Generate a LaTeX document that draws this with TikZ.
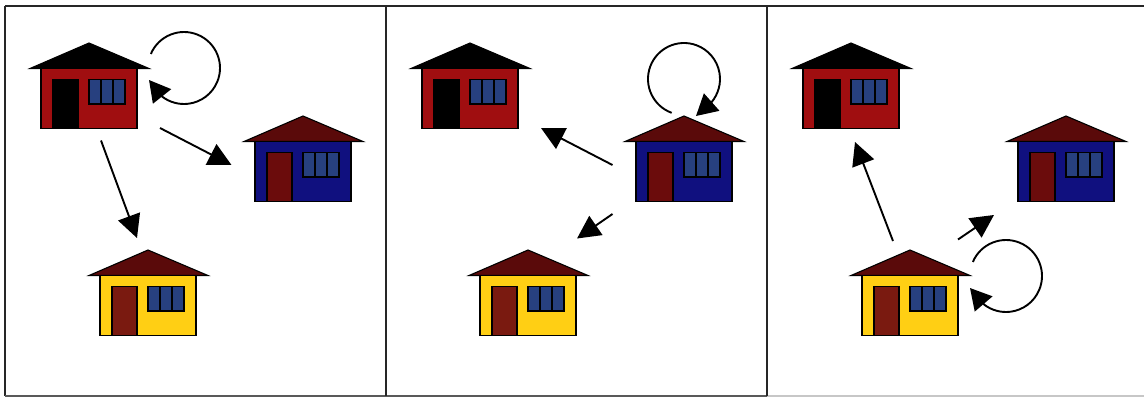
\documentclass[tikz,border=0pt]{standalone}
\usetikzlibrary{arrows.meta}
\definecolor{wallred}{HTML}{A00E10}
\definecolor{wallblue}{HTML}{10107F}
\definecolor{wallyellow}{HTML}{FFCF14}
\definecolor{roofdark}{HTML}{5A0A0A}
\definecolor{glass}{HTML}{27407F}
\definecolor{doordark}{HTML}{7A1A10}
\definecolor{doormaroon}{HTML}{6B0C0C}
\tikzset{
  x=1pt,y=-1pt,
  frameline/.style={line width=1.6pt,draw=black!85},
  outline/.style={line width=1.5pt,draw=black},
  link/.style={line width=1.9pt,draw=black,-{Triangle[length=23pt,width=23pt]}},
  loopa/.style={line width=1.9pt,draw=black,-{Triangle[length=21pt,width=23pt]}},
  pics/house/.style n args={3}{code={
    \filldraw[line width=1.1pt,draw=black,fill=#3] (-59,25.5) -- (0,0) -- (60,25.5) -- cycle;
    \filldraw[outline,fill=#1] (-48,25.5) rectangle (48,85.5);
    \filldraw[outline,fill=#2] (-36,36.5) rectangle (-11,85.5);
    \filldraw[outline,fill=glass] (0,36.5) rectangle (36,61);
    \draw[outline] (12,36.5) -- (12,61) (24,36.5) -- (24,61);
  }}
}
\begin{document}
\begin{tikzpicture}
\useasboundingbox (0,0) rectangle (1144,397);
\fill[white] (0,0) rectangle (1144,397);
% frame
\coordinate (tl) at (5,6);
\coordinate (tr) at (1144,6);
\coordinate (bl) at (5,396);
\coordinate (bm) at (767,396);
\coordinate (br) at (1144,396);
\draw[frameline] (tl) -- (tr) (tl) -- (bl);
\draw[frameline,draw=black!65] (bl) -- (bm);
\draw[frameline,draw=black!22] (bm) -- (br);
\draw[frameline] (386,6) -- (386,396) (767,6) -- (767,396);
% houses
\pic (ra) at (89,43) {house={wallred}{black}{black}};
\pic (ba) at (303,116) {house={wallblue}{doormaroon}{roofdark}};
\pic (ya) at (148,250) {house={wallyellow}{doordark}{roofdark}};
\pic (rb) at (470,43) {house={wallred}{black}{black}};
\pic (bb) at (684,116) {house={wallblue}{doormaroon}{roofdark}};
\pic (yb) at (528,250) {house={wallyellow}{doordark}{roofdark}};
\pic (rc) at (851,43) {house={wallred}{black}{black}};
\pic (bc) at (1066,116) {house={wallblue}{doormaroon}{roofdark}};
\pic (yc) at (910,250) {house={wallyellow}{doordark}{roofdark}};
% panel 1 arrows
\coordinate (a1s) at (160,128); \coordinate (a1e) at (231.5,165);
\coordinate (a2s) at (101,140.5); \coordinate (a2e) at (137,238);
\draw[link] (a1s) -- (a1e);
\draw[link] (a2s) -- (a2e);
\coordinate (l1c) at (184,68); \coordinate (l1e) at (149,80);
\draw[loopa] (l1c) ++(-157:36) arc[start angle=-157,end angle=127,radius=36] -- (l1e);
% panel 2 arrows
\coordinate (b1s) at (612.5,165); \coordinate (b1e) at (541,128);
\coordinate (b2s) at (612.5,214); \coordinate (b2e) at (577,238.5);
\draw[link] (b1s) -- (b1e);
\draw[link] (b2s) -- (b2e);
\coordinate (l2c) at (684,79); \coordinate (l2e) at (696,116);
\draw[loopa] (l2c) ++(110:36) arc[start angle=110,end angle=400,radius=36] -- (l2e);
% panel 3 arrows
\coordinate (c1s) at (893,241); \coordinate (c1e) at (855,142);
\coordinate (c2s) at (958,239.5); \coordinate (c2e) at (994,215);
\draw[link] (c1s) -- (c1e);
\draw[link] (c2s) -- (c2e);
\coordinate (l3c) at (1006,276); \coordinate (l3e) at (970,288);
\draw[loopa] (l3c) ++(-157:36) arc[start angle=-157,end angle=127,radius=36] -- (l3e);
\end{tikzpicture}
\end{document}
